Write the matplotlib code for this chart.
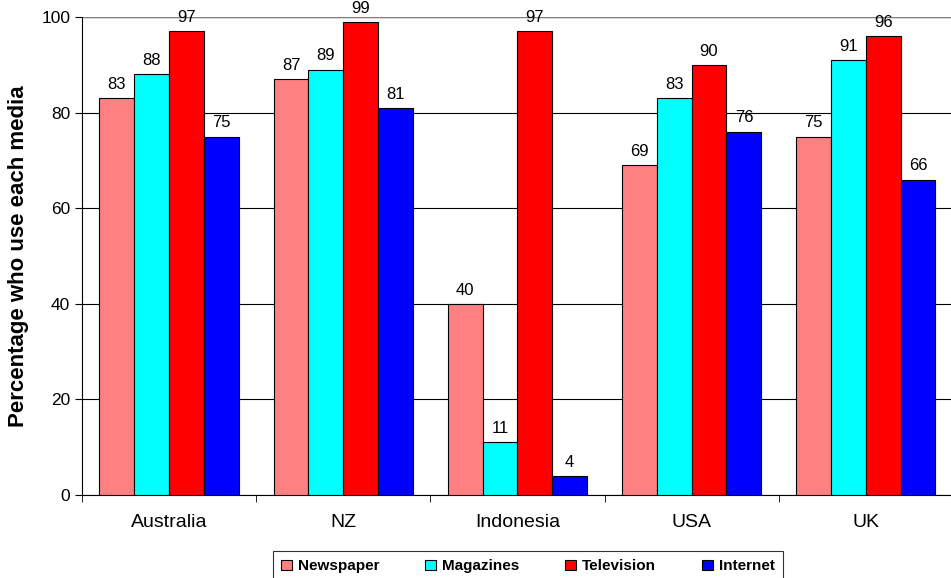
import numpy as np
import matplotlib
matplotlib.use("Agg")
import matplotlib.pyplot as plt

plt.rcParams["font.family"] = ["Liberation Sans", "DejaVu Sans"]

countries = ["Australia", "NZ", "Indonesia", "USA", "UK"]
series = ["Newspaper", "Magazines", "Television", "Internet"]
newspaper = [83, 87, 40, 69, 75]
magazines = [88, 89, 11, 83, 91]
television = [97, 99, 97, 90, 96]
internet = [75, 81, 4, 76, 66]
colors = ["#FF8080", "#00FFFF", "#FF0000", "#0000FF"]

fig = plt.figure(figsize=(9.51, 5.78), dpi=100)
ax = fig.add_axes([82 / 951, 1 - 495 / 578, 1 - 82 / 951 + 0.002, (495 - 17) / 578])

x = np.arange(len(countries))
width = 0.2
values = [newspaper, magazines, television, internet]
for i, (name, vals, col) in enumerate(zip(series, values, colors)):
    bars = ax.bar(x + (i - 1.5) * width, vals, width, color=col,
                  edgecolor="black", linewidth=0.8, label=name, zorder=3)
    for b, v in zip(bars, vals):
        ax.annotate(str(v), (b.get_x() + b.get_width() / 2, v),
                    xytext=(0, 4.5), textcoords="offset points",
                    ha="center", va="bottom", fontsize=12)

ax.set_xlim(-0.5, len(countries) - 0.5)
ax.set_ylim(0, 100)
ax.set_yticks([0, 20, 40, 60, 80, 100])
ax.tick_params(axis="y", labelsize=12.5, length=5, direction="out")
ax.set_xticks(x)
ax.set_xticklabels(countries, fontsize=14)
ax.tick_params(axis="x", length=0, pad=14)
ax.set_xticks(np.arange(len(countries) + 1) - 0.5, minor=True)
ax.tick_params(axis="x", which="minor", length=5)
ax.yaxis.grid(True, color="black", linewidth=0.8, zorder=0)
ax.set_axisbelow(True)
for s in ["top", "right"]:
    ax.spines[s].set_visible(False)
ax.axhline(100, color="#808080", linewidth=1, zorder=1)
ax.set_ylabel("Percentage who use each media", fontsize=16, fontweight="bold", labelpad=9)

leg = fig.legend(loc="upper center", bbox_to_anchor=(528 / 951, 1 - 551 / 578),
                 ncol=4, frameon=True, fancybox=False, edgecolor="black",
                 prop={"weight": "bold", "size": 11}, handlelength=0.7,
                 handleheight=0.7, columnspacing=3.0, handletextpad=0.4,
                 borderpad=0.55, borderaxespad=0)
leg.get_frame().set_linewidth(0.8)

fig.savefig("out.png", dpi=100)
